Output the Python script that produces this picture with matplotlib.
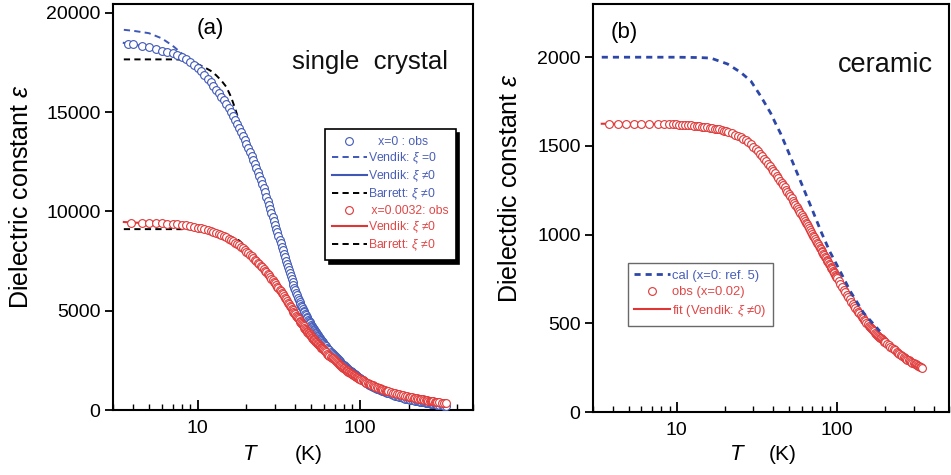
import matplotlib
matplotlib.use("Agg")
import matplotlib.pyplot as plt
from matplotlib.ticker import LogLocator, NullFormatter, FixedLocator, FixedFormatter
from matplotlib.lines import Line2D

plt.rcParams['font.family'] = ['Liberation Sans', 'DejaVu Sans']
plt.rcParams['mathtext.fontset'] = 'custom'
plt.rcParams['mathtext.it'] = 'Liberation Sans:italic'
plt.rcParams['mathtext.rm'] = 'Liberation Sans'

# ---------------- Panel (a): single crystal ----------------
T_a_x0 = [3.7, 4.0, 4.5, 5.0, 5.5, 6.0, 6.5, 7.0, 7.5, 8.0, 8.5, 9.0, 9.5,
          10, 10.5, 11, 11.5, 12, 12.5, 13, 13.5, 14, 14.5, 15, 15.5, 16, 16.5, 17, 17.5, 18, 18.5, 19, 19.5,
          20, 20.5, 21, 21.5, 22, 22.5, 23, 23.5, 24, 24.5, 25, 25.5, 26, 26.5, 27, 27.5, 28, 28.5, 29, 29.5,
          30, 30.5, 31, 31.5, 32, 32.5, 33, 33.5, 34, 34.5, 35, 35.5, 36, 36.5, 37, 37.5, 38, 38.5, 39, 39.5,
          40, 40.5, 41, 41.5, 42, 42.5, 43, 43.5, 44, 44.5, 45, 45.5, 46, 46.5, 47, 47.5, 48, 48.5, 49, 49.5,
          50, 50.5, 51, 51.5, 52, 52.5, 53, 53.5, 54, 54.5, 55, 55.5, 56, 56.5, 57, 57.5, 58, 58.5, 59, 59.5,
          60, 61, 62, 63, 64, 65, 66, 67, 68, 69, 70, 71, 72, 73, 74, 75, 76, 77, 78, 79, 80,
          81, 82, 83, 84, 85, 86, 87, 88, 89, 90, 91, 92, 93, 94, 95, 96, 97, 98, 99, 100,
          102, 104, 106, 108, 110, 112, 114, 116, 118, 120,
          122.5, 125, 127.5, 130, 132.5, 135, 137.5, 140, 142.5, 145, 147.5, 150,
          155, 160, 165, 170, 175, 180, 185, 190, 195, 200, 205, 210, 215, 220, 225, 230, 235, 240, 245, 250,
          255, 260, 265, 270, 275, 280, 285, 290, 295, 300, 310, 320, 330, 340]
eps_a_x0 = [18460, 18420, 18340, 18260, 18180, 18100, 18030, 17960, 17880, 17790, 17680, 17550, 17400,
            17230, 17050, 16870, 16690, 16500, 16320, 16140, 15960, 15780, 15590, 15400, 15200, 15000,
            14800, 14600, 14400, 14200, 14000, 13800, 13600,
            13400, 13200, 13000, 12790, 12580, 12375, 12170, 11975, 11780, 11575,
            11370, 11165, 10960, 10750, 10540, 10330, 10120, 9920, 9720, 9525,
            9330, 9140, 8950, 8765, 8580, 8400, 8220, 8045, 7870, 7700,
            7530, 7365, 7200, 7045, 6890, 6740, 6590, 6445, 6300, 6165,
            6030, 5905, 5780, 5665, 5550, 5445, 5340, 5255, 5170, 5085,
            5000, 4920, 4840, 4765, 4690, 4620, 4550, 4485, 4420, 4360,
            4300, 4240, 4185, 4125, 4070, 4020, 3970, 3920, 3870, 3820,
            3775, 3725, 3680, 3635, 3595, 3550, 3510, 3470, 3430, 3390,
            3350, 3275, 3200, 3130, 3060, 3000, 2940, 2880, 2820, 2765, 2710,
            2660, 2610, 2560, 2510, 2465, 2420, 2375, 2330, 2290, 2250,
            2210, 2170, 2130, 2090, 2055, 2020, 1985, 1950, 1920, 1890,
            1860, 1830, 1800, 1770, 1740, 1710, 1680, 1650, 1620, 1590,
            1540, 1490, 1445, 1400, 1360, 1320, 1285, 1250, 1215, 1180,
            1145, 1110, 1078, 1045, 1015, 985, 960, 935, 910, 885, 862, 840,
            800, 760, 728, 695, 665, 635, 607, 580, 560, 540, 520, 500, 482, 465, 450, 435, 420, 405, 392, 380,
            367, 355, 342, 330, 320, 310, 300, 290, 280, 270, 255, 240, 225, 210]

T_a_x32 = [3.9, 4.5, 5.0, 5.5, 6.0, 6.5, 7.0, 7.5, 8.0, 8.5, 9.0, 9.5,
           10, 10.5, 11, 11.5, 12, 12.5, 13, 13.5, 14, 14.5, 15, 15.5, 16, 16.5, 17, 17.5, 18, 18.5, 19, 19.5,
           20, 20.5, 21, 21.5, 22, 22.5, 23, 23.5, 24, 24.5, 25, 25.5, 26, 26.5, 27, 27.5, 28, 28.5, 29, 29.5,
           30, 30.5, 31, 31.5, 32, 32.5, 33, 33.5, 34, 34.5, 35, 35.5, 36, 36.5, 37, 37.5, 38, 38.5, 39, 39.5,
           40, 40.5, 41, 41.5, 42, 42.5, 43, 43.5, 44, 44.5, 45, 45.5, 46, 46.5, 47, 47.5, 48, 48.5, 49, 49.5,
           50, 50.5, 51, 51.5, 52, 52.5, 53, 53.5, 54, 54.5, 55, 55.5, 56, 56.5, 57, 57.5, 58, 58.5, 59, 59.5,
           60, 61, 62, 63, 64, 65, 66, 67, 68, 69, 70, 71, 72, 73, 74, 75, 76, 77, 78, 79, 80,
           81, 82, 83, 84, 85, 86, 87, 88, 89, 90, 91, 92, 93, 94, 95, 96, 97, 98, 99, 100,
           102, 104, 106, 108, 110, 112, 114, 116, 118, 120,
           122.5, 125, 127.5, 130, 132.5, 135, 137.5, 140, 142.5, 145, 147.5, 150,
           155, 160, 165, 170, 175, 180, 185, 190, 195, 200, 205, 210, 215, 220, 225, 230, 235, 240, 245, 250,
           255, 260, 265, 270, 275, 280, 285, 290, 295, 300, 310, 320, 330, 340]
eps_a_x32 = [9420, 9420, 9415, 9405, 9395, 9385, 9370, 9350, 9330, 9300, 9270, 9230,
             9190, 9150, 9100, 9050, 9000, 8950, 8900, 8850, 8800, 8745, 8690, 8630, 8570, 8500, 8430,
             8360, 8290, 8215, 8140, 8060,
             7980, 7900, 7820, 7740, 7660, 7580, 7500, 7420, 7340, 7260,
             7180, 7100, 7020, 6940, 6860, 6780, 6700, 6620, 6540, 6460,
             6380, 6300, 6220, 6140, 6060, 5980, 5900, 5820, 5740, 5660,
             5580, 5490, 5400, 5325, 5250, 5175, 5100, 5030, 4960, 4890,
             4820, 4755, 4690, 4625, 4560, 4500, 4440, 4380, 4320, 4265,
             4210, 4155, 4100, 4050, 4000, 3950, 3900, 3855, 3810, 3765,
             3720, 3680, 3640, 3600, 3560, 3522, 3485, 3447, 3410, 3375,
             3340, 3305, 3270, 3237, 3205, 3172, 3140, 3110, 3080, 3050,
             3020, 2960, 2900, 2845, 2790, 2740, 2690, 2645, 2600, 2555, 2510,
             2465, 2420, 2375, 2330, 2290, 2250, 2210, 2170, 2135, 2100,
             2065, 2033, 2000, 1967, 1933, 1900, 1873, 1847, 1820, 1793,
             1767, 1740, 1717, 1693, 1670, 1647, 1623, 1600, 1580, 1560,
             1520, 1490, 1460, 1420, 1380, 1352, 1324, 1296, 1268, 1240,
             1210, 1180, 1150, 1120, 1095, 1070, 1045, 1020, 1000, 980, 960, 940,
             905, 870, 840, 810, 785, 760, 737, 715, 695, 675, 657, 640, 622, 605, 590, 575, 560, 545, 530, 515,
             502, 490, 477, 465, 455, 445, 435, 425, 415, 405, 390, 375, 360, 345]

T_vend0_x0 = [3.5, 4, 5, 6, 7, 8, 9, 10, 11, 12, 14, 16, 18, 20, 23, 26, 30, 35, 40, 50, 60, 80, 100,
              150, 200, 340]
eps_vend0_x0 = [19150, 19100, 18980, 18720, 18350, 17950, 17580, 17230, 16870, 16500, 15780, 15000,
                14200, 13400, 12170, 10960, 9330, 7530, 6030, 4300, 3350, 2250, 1590, 840, 540, 210]

T_vend_x0 = [3.5, 4, 5, 6, 7, 8, 9, 10, 12, 14, 16, 18, 20, 25, 30, 35, 40, 50, 60, 80, 100, 150,
             200, 340]
eps_vend_x0 = [18490, 18420, 18260, 18100, 17960, 17790, 17550, 17230, 16500, 15780, 15000, 14200,
               13400, 11370, 9330, 7530, 6030, 4300, 3350, 2250, 1590, 840, 540, 210]

T_barr_x0 = [3.5, 5, 7, 8, 9, 10, 11, 12, 13, 14, 15, 16, 17, 18, 19, 20, 22, 25]
eps_barr_x0 = [17660, 17660, 17660, 17650, 17580, 17420, 17260, 17090, 16860, 16590, 16280, 15800,
               15200, 14550, 13850, 13250, 12450, 11300]

T_vend_x32 = [3.5, 4, 5, 6, 7, 8, 9, 10, 12, 14, 16, 18, 20, 25, 30, 35, 40, 50, 60, 80, 100, 150,
              200, 340]
eps_vend_x32 = [9470, 9440, 9415, 9395, 9370, 9330, 9270, 9190, 9000, 8800, 8570, 8290, 7980, 7180,
                6380, 5580, 4820, 3720, 3020, 2100, 1560, 940, 675, 345]

T_barr_x32 = [3.5, 5, 7, 9, 10, 12, 14, 16, 18, 20, 22, 24]
eps_barr_x32 = [9110, 9110, 9110, 9105, 9090, 9020, 8900, 8740, 8540, 8200, 7820, 7440]

# ---------------- Panel (b): ceramic ----------------
T_b_obs = [3.8, 4.3, 4.85, 5.4, 6.0, 6.7, 7.6, 8.3, 8.9, 9.4, 9.9, 10.3, 10.8, 11.3, 11.8, 12.3, 12.8,
           13.3, 13.8, 14.3, 14.8, 15.4, 16, 16.6, 17.2, 17.8, 18.4, 19, 19.6, 20.2,
           21, 22, 23, 24, 25, 26, 27, 28, 29, 30, 31, 32, 33, 34, 35, 36, 37, 38, 39, 40,
           41, 42, 43, 44, 45, 46, 47, 48, 49, 50, 51, 52, 53, 54, 55, 56, 57, 58, 59, 60,
           61, 62, 63, 64, 65, 66, 67, 68, 69, 70, 71, 72, 73, 74, 75, 76, 77, 78, 79, 80,
           81, 82, 83, 84, 85, 86, 87, 88, 89, 90, 91, 92, 93, 94, 95, 96, 97, 98, 99, 100,
           102.5, 105, 107.5, 110, 112.5, 115, 117.5, 120, 122.5, 125, 127.5, 130, 132.5, 135, 137.5,
           140, 142.5, 145, 147.5, 150, 152.5, 155, 157.5, 160, 162.5, 165, 167.5, 170, 172.5, 175,
           177.5, 180, 182.5, 185, 187.5, 190, 192.5, 195, 197.5, 200,
           205, 210, 215, 220, 225, 230, 235, 240, 245, 250, 255, 260, 265, 270, 275, 280, 285, 290,
           295, 300, 305, 310, 315, 320, 325, 330, 335, 340]
eps_b_obs = [1625, 1625, 1625, 1625, 1625, 1625, 1624, 1623, 1622, 1622, 1621, 1620, 1619, 1618, 1617,
             1616, 1614, 1612, 1611, 1609, 1607, 1605, 1603, 1600, 1598, 1596, 1593, 1590, 1586, 1583,
             1578, 1571, 1564, 1557, 1550, 1541, 1532, 1520, 1508, 1495,
             1481, 1469, 1456, 1443, 1429, 1414, 1400, 1385, 1371, 1358,
             1345, 1332, 1318, 1304, 1292, 1279, 1266, 1254, 1242, 1230,
             1217, 1205, 1192, 1180, 1167, 1155, 1143, 1132, 1121, 1110,
             1099, 1088, 1078, 1068, 1058, 1048, 1038, 1027, 1016, 1005,
             994, 984, 974, 964, 954, 945, 936, 927, 918, 909,
             900, 892, 884, 875, 867, 859, 851, 843, 835, 827,
             820, 812, 805, 797, 790, 782, 775, 768, 761, 754,
             738, 722, 706, 690, 676, 662, 648, 635, 622, 610, 598, 587, 576, 566, 556,
             546, 537, 528, 519, 511, 503, 495, 487, 480, 473, 467, 460, 454, 448, 442,
             436, 431, 425, 420, 415, 410, 405, 401, 396, 392,
             384, 376, 368, 361, 354, 347, 340, 334, 328, 322, 316, 311, 306, 301, 296, 292, 287, 283,
             279, 275, 271, 268, 264, 261, 258, 255, 252, 249]

T_b_cal = [3.4, 6, 10, 14, 16.3, 17.9, 20.7, 25, 29, 33.4, 38.5, 41.4, 44.4, 50, 59.2, 70, 80, 90,
           103.6, 121, 146.5, 185]
eps_b_cal = [2000, 2000, 2000, 1998, 1995, 1982, 1962, 1915, 1865, 1780, 1685, 1625, 1570, 1460, 1300,
             1140, 1010, 905, 800, 680, 558, 455]

T_b_fit = [3.4, 5, 8, 10, 15, 20, 25, 30, 35, 40, 50, 60, 70, 80, 100, 130, 160, 200, 250, 300, 340]
eps_b_fit = [1625, 1625, 1624, 1621, 1606, 1584, 1550, 1495, 1429, 1358, 1230, 1110, 1005, 909, 754,
             587, 480, 392, 322, 275, 249]

BLUE = '#3f58b8'
RED = '#e03535'
BLUE_TXT = '#4a5fb8'
RED_TXT = '#e04848'
CAL = '#2d47a8'
DASH = (0, (3.2, 2.2))
DOT = (0, (2.2, 1.8))
MS = 5.6
MEW = 0.8

fig = plt.figure(figsize=(9.51, 4.75), dpi=100)
axa = fig.add_axes([0.1188, 0.1368, 0.3786, 0.8548])
axb = fig.add_axes([0.6236, 0.1326, 0.3744, 0.8590])


def style_axis(ax):
    ax.set_xscale('log')
    ax.set_xlim(3, 500)
    for s in ax.spines.values():
        s.set_linewidth(1.5)
    ax.xaxis.set_major_locator(FixedLocator([10, 100]))
    ax.xaxis.set_major_formatter(FixedFormatter(['10', '100']))
    ax.xaxis.set_minor_locator(LogLocator(base=10, subs=range(2, 10)))
    ax.xaxis.set_minor_formatter(NullFormatter())
    ax.tick_params(axis='x', which='major', direction='in', length=7, width=1.3,
                   labelsize=14, pad=7)
    ax.tick_params(axis='x', which='minor', direction='in', length=4, width=1.0)
    ax.tick_params(axis='y', which='major', direction='out', length=6, width=1.3,
                   labelsize=14, pad=3)


# ---- Panel (a) ----
ax = axa
style_axis(ax)
ax.set_ylim(0, 20450)
ax.set_yticks([0, 5000, 10000, 15000, 20000])
ax.plot(T_vend0_x0, eps_vend0_x0, color=BLUE, lw=1.4, ls=DASH, zorder=2)
ax.plot(T_vend_x0, eps_vend_x0, color=BLUE, lw=1.5, zorder=2)
ax.plot(T_barr_x0, eps_barr_x0, color='black', lw=1.4, ls=DASH, zorder=2)
ax.plot(T_vend_x32, eps_vend_x32, color=RED, lw=1.5, zorder=2)
ax.plot(T_barr_x32, eps_barr_x32, color='black', lw=1.4, ls=DASH, zorder=2)
ax.plot(T_a_x0, eps_a_x0, ls='none', marker='o', ms=MS, mfc='white', mec=BLUE, mew=MEW, zorder=3)
ax.plot(T_a_x32, eps_a_x32, ls='none', marker='o', ms=MS, mfc='white', mec=RED, mew=MEW, zorder=4)

ax.text(0.27, 0.94, '(a)', transform=ax.transAxes, fontsize=16, ha='center', va='center')
ax.text(0.714, 0.857, 'single  crystal', transform=ax.transAxes, fontsize=18.5,
        ha='center', va='center', color='#111111')
ax.set_ylabel(r'Dielectric constant $\varepsilon$', fontsize=18)
ax.yaxis.set_label_coords(-0.222, 0.525)

handles_a = [
    Line2D([], [], ls='none', marker='o', ms=MS, mfc='white', mec=BLUE, mew=MEW),
    Line2D([], [], color=BLUE, lw=1.4, ls=DASH),
    Line2D([], [], color=BLUE, lw=1.5),
    Line2D([], [], color='black', lw=1.4, ls=DASH),
    Line2D([], [], ls='none', marker='o', ms=MS, mfc='white', mec=RED, mew=MEW),
    Line2D([], [], color=RED, lw=1.5),
    Line2D([], [], color='black', lw=1.4, ls=DASH),
]
labels_a = ['   x=0 : obs', r'Vendik: $\xi$ =0', r'Vendik: $\xi$ ≠0', r'Barrett: $\xi$ ≠0',
            ' x=0.0032: obs', r'Vendik: $\xi$ ≠0', r'Barrett: $\xi$ ≠0']
leg = ax.legend(handles_a, labels_a, loc='upper left', bbox_to_anchor=(0.589, 0.692),
                fontsize=8.8, handlelength=2.8, handletextpad=0.1, labelspacing=0.2,
                borderpad=0.6, borderaxespad=0, frameon=True, fancybox=False,
                shadow={'color': 'black', 'alpha': 1.0, 'ox': 2.5, 'oy': -2.5},
                edgecolor='black')
leg.get_frame().set_linewidth(1.2)
for t, c in zip(leg.get_texts(), [BLUE_TXT] * 4 + [RED_TXT] * 3):
    t.set_color(c)

fig.text(250 / 951, 1 - 455 / 475, '$T$', fontsize=16, ha='center', va='center')
fig.text(309 / 951, 1 - 455 / 475, '(K)', fontsize=15, ha='center', va='center')

# ---- Panel (b) ----
ax = axb
style_axis(ax)
ax.set_ylim(0, 2300)
ax.set_yticks([0, 500, 1000, 1500, 2000])
ax.plot(T_b_fit, eps_b_fit, color=RED, lw=1.5, zorder=2)
ax.plot(T_b_obs, eps_b_obs, ls='none', marker='o', ms=MS, mfc='white', mec=RED, mew=MEW, zorder=3)
ax.plot(T_b_cal, eps_b_cal, color=CAL, lw=2.0, ls=DOT, zorder=4)
ax.text(0.087, 0.931, '(b)', transform=ax.transAxes, fontsize=16, ha='center', va='center')
ax.text(0.82, 0.85, 'ceramic', transform=ax.transAxes, fontsize=19.5, ha='center', va='center',
        color='#111111')
ax.set_ylabel(r'Dielectdic constant $\varepsilon$', fontsize=18)
ax.yaxis.set_label_coords(-0.199, 0.55)

handles_b = [
    Line2D([], [], color=CAL, lw=2.0, ls=DOT),
    Line2D([], [], ls='none', marker='o', ms=MS, mfc='white', mec=RED, mew=MEW),
    Line2D([], [], color=RED, lw=1.5),
]
labels_b = ['cal (x=0: ref. 5)', 'obs (x=0.02)', r'fit (Vendik: $\xi$ ≠0)']
legb = ax.legend(handles_b, labels_b, loc='upper left', bbox_to_anchor=(0.098, 0.365),
                 fontsize=9.4, handlelength=2.7, handletextpad=0.2, labelspacing=0.35,
                 borderpad=0.5, borderaxespad=0, frameon=True, fancybox=False,
                 edgecolor='#444444')
legb.get_frame().set_linewidth(1.0)
for t, c in zip(legb.get_texts(), [BLUE_TXT, RED_TXT, RED_TXT]):
    t.set_color(c)

fig.text(737 / 951, 1 - 455 / 475, '$T$', fontsize=16, ha='center', va='center')
fig.text(783 / 951, 1 - 455 / 475, '(K)', fontsize=15, ha='center', va='center')

fig.savefig('out.png', dpi=100)
